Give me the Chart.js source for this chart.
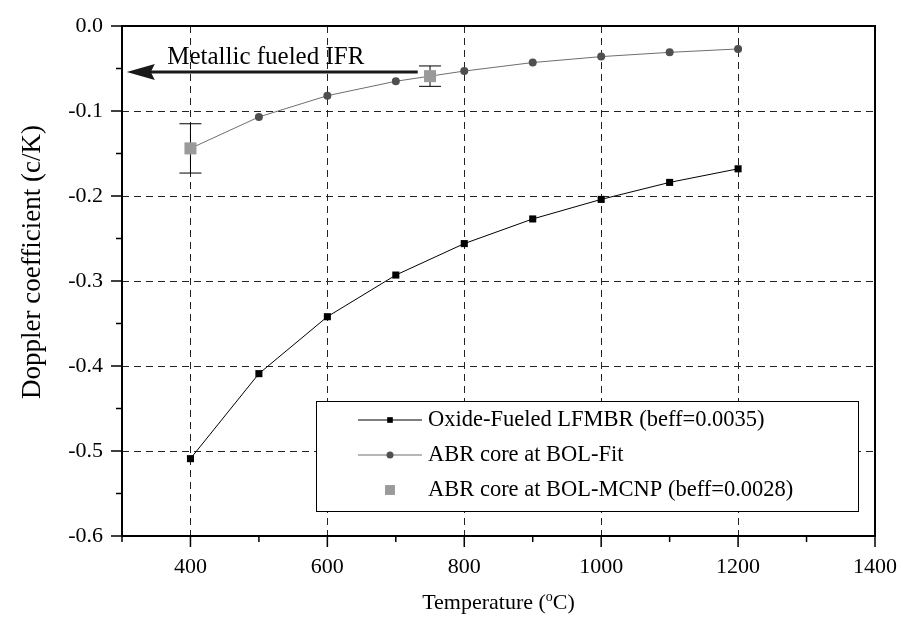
<!DOCTYPE html>
<html>
<head>
<meta charset="utf-8">
<script src="https://cdn.jsdelivr.net/npm/chart.js@4.4.0/dist/chart.umd.min.js"></script>
<style>
  html, body { margin: 0; padding: 0; background: #fff; }
</style>
</head>
<body>
<canvas id="chart" width="903" height="624"></canvas>
<script>
// ── Data ───────────────────────────────────────
const temps = [400, 500, 600, 700, 800, 900, 1000, 1100, 1200];
const oxideVals = [-0.509, -0.409, -0.342, -0.293, -0.256, -0.227, -0.204, -0.184, -0.168];
const fitVals = [-0.144, -0.107, -0.082, -0.065, -0.053, -0.043, -0.036, -0.031, -0.027];
const mcnpTemps = [400, 750];
const mcnpVals = [-0.144, -0.059];
const mcnpErrHigh = [-0.115, -0.047];
const mcnpErrLow = [-0.173, -0.071];
const seriesLabels = [
  'Oxide-Fueled LFMBR (beff=0.0035)',
  'ABR core at BOL-Fit',
  'ABR core at BOL-MCNP (beff=0.0028)'
];
const arrowFrom = [732, -0.054];
const arrowTo = [307, -0.054];
const arrowLabel = 'Metallic fueled IFR';
const arrowLabelAt = [366, -0.037];
const yTitle = 'Doppler coefficient (c/K)';

const SERIF = '"Liberation Serif", "DejaVu Serif", serif';
const fitLine = '#6e6e6e', fitDot = '#4f4f4f', mcnpGrey = '#9a9a9a';

// ── Extras: frame, ticks, error bars, arrow, legend, axis titles ──
const extras = {
  id: 'extras',
  beforeDatasetsDraw(chart) {
    const { ctx, scales: { x, y } } = chart;
    ctx.save();
    ctx.strokeStyle = '#000';
    ctx.lineWidth = 1;
    mcnpTemps.forEach((t, i) => {
      const px = x.getPixelForValue(t);
      const hi = y.getPixelForValue(mcnpErrHigh[i]);
      const lo = y.getPixelForValue(mcnpErrLow[i]);
      ctx.beginPath();
      ctx.moveTo(px, hi); ctx.lineTo(px, lo);
      ctx.moveTo(px - 11, hi); ctx.lineTo(px + 11, hi);
      ctx.moveTo(px - 11, lo); ctx.lineTo(px + 11, lo);
      ctx.stroke();
    });
    ctx.restore();
  },
  afterDraw(chart) {
    const { ctx, chartArea: a, scales: { x, y } } = chart;
    ctx.save();

    // frame
    ctx.strokeStyle = '#000';
    ctx.lineWidth = 2;
    ctx.strokeRect(a.left, a.top, a.right - a.left, a.bottom - a.top);

    // tick marks (major longer, minor shorter, outward)
    ctx.lineWidth = 1.5;
    ctx.beginPath();
    x.ticks.forEach(t => {
      const px = x.getPixelForValue(t.value);
      const len = t.value % 200 === 0 ? 11 : 6;
      ctx.moveTo(px, a.bottom); ctx.lineTo(px, a.bottom + len);
    });
    y.ticks.forEach(t => {
      const py = y.getPixelForValue(t.value);
      const major = Math.round(t.value * 100) % 10 === 0;
      ctx.moveTo(a.left, py); ctx.lineTo(a.left - (major ? 11 : 6), py);
    });
    ctx.stroke();

    // arrow
    const ax0 = x.getPixelForValue(arrowFrom[0]), ay = y.getPixelForValue(arrowFrom[1]);
    const ax1 = x.getPixelForValue(arrowTo[0]);
    ctx.strokeStyle = '#1a1a1a';
    ctx.fillStyle = '#1a1a1a';
    ctx.lineWidth = 3;
    ctx.beginPath();
    ctx.moveTo(ax0, ay); ctx.lineTo(ax1 + 20, ay);
    ctx.stroke();
    ctx.beginPath();
    ctx.moveTo(ax1, ay);
    ctx.lineTo(ax1 + 28, ay - 8);
    ctx.lineTo(ax1 + 24, ay);
    ctx.lineTo(ax1 + 28, ay + 8);
    ctx.closePath();
    ctx.fill();

    ctx.fillStyle = '#000';
    ctx.font = '25px ' + SERIF;
    ctx.textAlign = 'left';
    ctx.textBaseline = 'middle';
    ctx.fillText(arrowLabel, x.getPixelForValue(arrowLabelAt[0]), y.getPixelForValue(arrowLabelAt[1]));

    // legend
    const lx = 316, ly = 401, lw = 542, lh = 110;
    ctx.fillStyle = '#fff';
    ctx.fillRect(lx, ly, lw, lh);
    ctx.strokeStyle = '#000';
    ctx.lineWidth = 1;
    ctx.strokeRect(lx + 0.5, ly + 0.5, lw, lh);
    const rows = [420, 455, 490];
    const styles = [
      { line: '#000', dot: '#000', shape: 'rect', r: 4 },
      { line: fitLine, dot: fitDot, shape: 'circle', r: 3.5 },
      { line: null, dot: mcnpGrey, shape: 'rect', r: 7 }
    ];
    rows.forEach((ry, i) => {
      const s = styles[i];
      if (s.line) {
        ctx.strokeStyle = s.line;
        ctx.lineWidth = 1;
        ctx.beginPath();
        ctx.moveTo(358, ry); ctx.lineTo(422, ry);
        ctx.stroke();
      }
      ctx.fillStyle = s.dot;
      Chart.helpers.drawPoint(ctx, { pointStyle: s.shape, radius: s.r, borderWidth: 0 }, 390, ry);
      ctx.fillStyle = '#000';
      ctx.font = '22.5px ' + SERIF;
      ctx.textBaseline = 'middle';
      ctx.fillText(seriesLabels[i], 428, ry);
    });

    // x title with superscript
    ctx.fillStyle = '#000';
    ctx.textBaseline = 'alphabetic';
    const cx = (a.left + a.right) / 2, by = 609;
    const p1 = 'Temperature (', p2 = 'o', p3 = 'C)';
    ctx.font = '22px ' + SERIF;
    const w1 = ctx.measureText(p1).width, w3 = ctx.measureText(p3).width;
    ctx.font = '14px ' + SERIF;
    const w2 = ctx.measureText(p2).width;
    const sx = cx - (w1 + w2 + w3) / 2;
    ctx.font = '22px ' + SERIF;
    ctx.fillText(p1, sx, by);
    ctx.font = '14px ' + SERIF;
    ctx.fillText(p2, sx + w1, by - 8);
    ctx.font = '22px ' + SERIF;
    ctx.fillText(p3, sx + w1 + w2, by);

    // y title
    ctx.translate(33, 262);
    ctx.rotate(-Math.PI / 2);
    ctx.font = '27px ' + SERIF;
    ctx.textAlign = 'center';
    ctx.textBaseline = 'middle';
    ctx.fillText(yTitle, 0, 0);

    ctx.restore();
  }
};

new Chart(document.getElementById('chart'), {
  type: 'scatter',
  data: {
    datasets: [
      {
        label: seriesLabels[0],
        data: temps.map((t, i) => ({ x: t, y: oxideVals[i] })),
        showLine: true,
        borderColor: '#000',
        borderWidth: 1,
        backgroundColor: '#000',
        pointStyle: 'rect',
        pointRadius: 5,
        pointBorderWidth: 0,
        order: 3
      },
      {
        label: seriesLabels[1],
        data: temps.map((t, i) => ({ x: t, y: fitVals[i] })),
        showLine: true,
        borderColor: fitLine,
        borderWidth: 1,
        backgroundColor: fitDot,
        pointStyle: 'circle',
        pointRadius: 4,
        pointBorderWidth: 0,
        order: 2
      },
      {
        label: seriesLabels[2],
        data: mcnpTemps.map((t, i) => ({ x: t, y: mcnpVals[i] })),
        showLine: false,
        backgroundColor: mcnpGrey,
        pointStyle: 'rect',
        pointRadius: 8.5,
        pointBorderWidth: 0,
        order: 1
      }
    ]
  },
  options: {
    responsive: false,
    animation: false,
    events: [],
    layout: { padding: { left: 0, right: 28, top: 26, bottom: 0 } },
    plugins: { legend: { display: false }, tooltip: { enabled: false } },
    scales: {
      x: {
        type: 'linear',
        min: 300,
        max: 1400,
        afterFit: s => { s.height = 88; s.paddingLeft = 0; s.paddingRight = 0; },
        ticks: {
          stepSize: 100,
          padding: 18,
          color: '#000',
          font: { family: SERIF, size: 22 },
          maxRotation: 0,
          autoSkip: false,
          callback: v => (v % 200 === 0 ? String(v) : '')
        },
        grid: {
          drawTicks: false,
          color: c => (c.tick && c.tick.value % 200 === 0 && c.tick.value > 300 && c.tick.value < 1400) ? '#222' : 'rgba(0,0,0,0)',
          lineWidth: 1
        },
        border: { display: false, dash: [7, 5] }
      },
      y: {
        type: 'linear',
        min: -0.6,
        max: 0,
        afterFit: s => { s.width = 122; s.paddingTop = 0; s.paddingBottom = 0; },
        ticks: {
          stepSize: 0.05,
          padding: 19,
          color: '#000',
          font: { family: SERIF, size: 22 },
          autoSkip: false,
          callback: v => (Math.round(v * 100) % 10 === 0 ? v.toFixed(1) : '')
        },
        grid: {
          drawTicks: false,
          color: c => {
            const k = Math.round(c.tick.value * 100);
            return (k % 10 === 0 && k < 0 && k > -60) ? '#222' : 'rgba(0,0,0,0)';
          },
          lineWidth: 1
        },
        border: { display: false, dash: [7, 5] }
      }
    }
  },
  plugins: [extras]
});
</script>
</body>
</html>
